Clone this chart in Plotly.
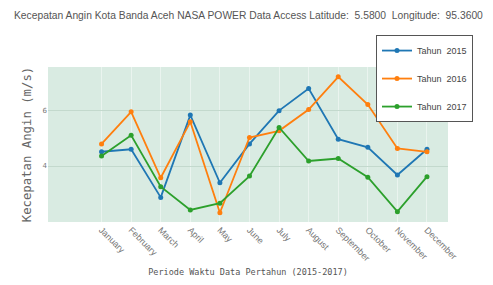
import plotly.graph_objects as go

months = ["January", "February", "March", "April", "May", "June", "July",
          "August", "September", "October", "November", "December"]
tahun_2015 = [4.51, 4.60, 2.88, 5.82, 3.40, 4.79, 5.98, 6.77, 4.96, 4.67, 3.68, 4.60]
tahun_2016 = [4.79, 5.94, 3.58, 5.58, 2.33, 5.02, 5.26, 6.02, 7.19, 6.20, 4.63, 4.51]
tahun_2017 = [4.36, 5.10, 3.26, 2.43, 2.67, 3.64, 5.38, 4.18, 4.27, 3.60, 2.37, 3.62]
series_names = ["Tahun  2015", "Tahun  2016", "Tahun  2017"]
colors = ["#1f77b4", "#ff7f0e", "#2ca02c"]
chart_title = "Kecepatan Angin Kota Banda Aceh NASA POWER Data Access Latitude:  5.5800  Longitude:  95.3600"

NARROW = "Liberation Sans Narrow, Liberation Sans, Arial, sans-serif"

fig = go.Figure()
for i, (name, vals) in enumerate(zip(series_names, [tahun_2015, tahun_2016, tahun_2017])):
    fig.add_trace(go.Scatter(
        x=months, y=vals, name=name, mode="lines+markers",
        line=dict(color=colors[i], width=1.8),
        marker=dict(size=5, color=colors[i]),
        legendgroup=name,
    ))

fig.add_annotation(
    text=chart_title, xref="paper", yref="paper",
    x=-0.09, y=1.335, xanchor="left", yanchor="middle",
    showarrow=False,
    font=dict(family=NARROW, size=10.3, color="#555555"),
)

fig.update_layout(
    width=493, height=285,
    margin=dict(l=40, r=53, t=59, b=71, autoexpand=False),
    paper_bgcolor="white",
    plot_bgcolor="#d9ebe2",
    legend=dict(
        x=1.0625, y=1.206, xanchor="right", yanchor="top",
        bgcolor="white", bordercolor="#555555", borderwidth=1,
        font=dict(family=NARROW, size=9, color="#444444"),
        tracegroupgap=9,
        itemwidth=30,
    ),
    showlegend=True,
)

fig.update_xaxes(
    type="category",
    range=[-1.81, 11.71],
    tickangle=45,
    automargin=False,
    tickfont=dict(family=NARROW, size=9, color="#777777"),
    showgrid=True, gridcolor="rgba(255,255,255,0.45)", gridwidth=1,
    zeroline=False, showline=False,
    title=dict(text="Periode Waktu Data Pertahun (2015-2017)",
               font=dict(family="DejaVu Sans Mono, monospace", size=8.5, color="#555555"),
               standoff=6),
)
fig.update_yaxes(
    range=[2.0, 7.54],
    tickvals=[4, 6],
    automargin=False,
    tickfont=dict(family="DejaVu Sans, sans-serif", size=7, color="#777777"),
    showgrid=True, gridcolor="#c3d9cd", gridwidth=1,
    zeroline=False, showline=False,
    title=dict(text="Kecepatan Angin (m/s)",
               font=dict(family="DejaVu Sans Mono, monospace", size=12.3, color="#666666"),
               standoff=8),
)

fig.write_html("out.html")
